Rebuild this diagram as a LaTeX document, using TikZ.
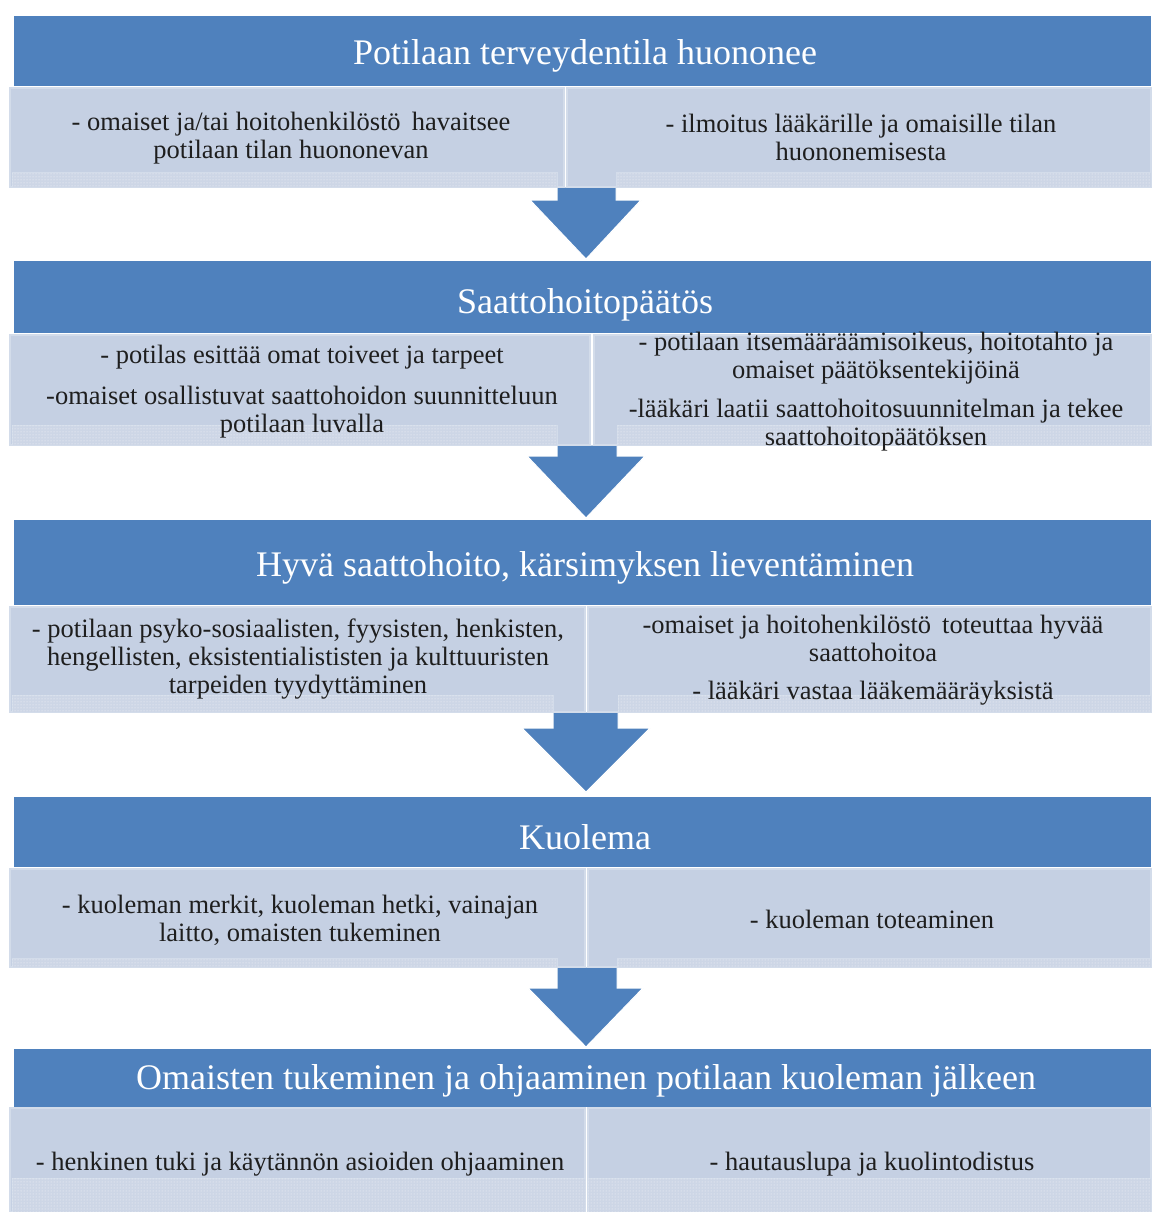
\documentclass[tikz,border=0pt]{standalone}
\usepackage{fontspec}
\setmainfont{Liberation Serif}
\usetikzlibrary{patterns}
\definecolor{hblue}{HTML}{4F81BD}
\definecolor{panel}{HTML}{C5D0E3}
\definecolor{panedge}{HTML}{D3DCEA}
\definecolor{stripc}{HTML}{CDD6E6}
\definecolor{txt}{HTML}{1E1E1E}
\tikzset{
 header/.style={fill=hblue, draw=none},
 htext/.style={text=white, font=\fontsize{36}{40}\selectfont, inner sep=0pt, text height=25pt, text depth=8pt},
 btext/.style={text=txt, font=\fontsize{26.5}{28}\selectfont, align=center, inner sep=0pt},
 panelbox/.style={fill=panel, draw=panedge, line width=1.5pt},
 stripbox/.style={fill=stripc, draw=panedge, line width=1pt, postaction={pattern=dots, pattern color=white!80!stripc}},
 arrowshape/.style={fill=hblue, draw=white, line width=1pt},
}
\begin{document}
\begin{tikzpicture}[x=1pt,y=-1pt]
\useasboundingbox (0,0) rectangle (1151,1212);
\fill[white] (0,0) rectangle (1151,1212);

% arrows
\draw[arrowshape] (557,187) -- (616,187) -- (616,200) -- (641,200) -- (586,259) -- (530,200) -- (557,200) -- cycle;
\draw[arrowshape] (557,445) -- (617,445) -- (617,456) -- (645,456) -- (586,518) -- (527,456) -- (557,456) -- cycle;
\draw[arrowshape] (553,712) -- (618,712) -- (618,728) -- (650,728) -- (586,792) -- (522,728) -- (553,728) -- cycle;
\draw[arrowshape] (557,967) -- (617,967) -- (617,988) -- (643,988) -- (586,1047) -- (528,988) -- (557,988) -- cycle;

% headers
\fill[header] (14,16) rectangle (1151,86);
\fill[header] (14,261) rectangle (1151,333);
\fill[header] (14,520) rectangle (1151,605);
\fill[header] (14,797) rectangle (1151,867);
\fill[header] (14,1049) rectangle (1151,1107);

% row 1
\draw[panelbox] (10,88) rectangle (564,187);
\draw[panelbox] (567,88) rectangle (1151,187);
\draw[stripbox] (12,172) rectangle (557,187);
\draw[stripbox] (616,172) rectangle (1151,187);
% row 2
\draw[panelbox] (10,335) rectangle (590,445);
\draw[panelbox] (594,335) rectangle (1151,445);
\draw[stripbox] (12,425) rectangle (557,445);
\draw[stripbox] (617,425) rectangle (1151,445);
% row 3
\draw[panelbox] (10,607) rectangle (585,712);
\draw[panelbox] (588,607) rectangle (1151,712);
\draw[stripbox] (12,695) rectangle (553,712);
\draw[stripbox] (618,695) rectangle (1151,712);
% row 4
\draw[panelbox] (10,869) rectangle (585,967);
\draw[panelbox] (588,869) rectangle (1151,967);
\draw[stripbox] (12,958) rectangle (557,967);
\draw[stripbox] (617,958) rectangle (1151,967);
% row 5
\draw[panelbox] (10,1108) rectangle (585,1212);
\draw[panelbox] (588,1108) rectangle (1151,1212);
\draw[stripbox] (12,1178) rectangle (585,1212);
\draw[stripbox] (588,1178) rectangle (1151,1212);

% header texts
\node[htext] (t1) at (585,56) {Potilaan terveydentila huononee};
\node[htext] (t2) at (585,305) {Saattohoitopäätös};
\node[htext] (t3) at (585,568) {Hyvä saattohoito, kärsimyksen lieventäminen};
\node[htext] (t4) at (585,841) {Kuolema};
\node[htext] (t5) at (586,1081) {Omaisten tukeminen ja ohjaaminen potilaan kuoleman jälkeen};

% body texts
\node[btext] (a1) at (291,138) {- omaiset ja/tai hoitohenkilöstö\, havaitsee\\potilaan tilan huononevan};
\node[btext] (b1) at (861,137) {- ilmoitus lääkärille ja omaisille tilan\\huononemisesta};
\node[btext] (a2) at (302,392) {- potilas esittää omat toiveet ja tarpeet\\[13pt]-omaiset osallistuvat saattohoidon suunnitteluun\\potilaan luvalla};
\node[btext] (b2) at (876,392) {- potilaan itsemääräämisoikeus, hoitotahto ja\\omaiset päätöksentekijöinä\\[11pt]-lääkäri laatii saattohoitosuunnitelman ja tekee\\saattohoitopäätöksen};
\node[btext] (a3) at (298,659) {- potilaan psyko-sosiaalisten, fyysisten, henkisten,\\hengellisten, eksistentialististen ja kulttuuristen\\tarpeiden tyydyttäminen};
\node[btext] (b3) at (873,660) {-omaiset ja hoitohenkilöstö\, toteuttaa hyvää\\saattohoitoa\\[10pt]- lääkäri vastaa lääkemääräyksistä};
\node[btext] (a4) at (300,920) {- kuoleman merkit, kuoleman hetki, vainajan\\laitto, omaisten tukeminen};
\node[btext] (b4) at (872,919) {- kuoleman toteaminen};
\node[btext] (a5) at (300,1164) {- henkinen tuki ja käytännön asioiden ohjaaminen};
\node[btext] (b5) at (872,1164) {- hautauslupa ja kuolintodistus};
\end{tikzpicture}
\end{document}
